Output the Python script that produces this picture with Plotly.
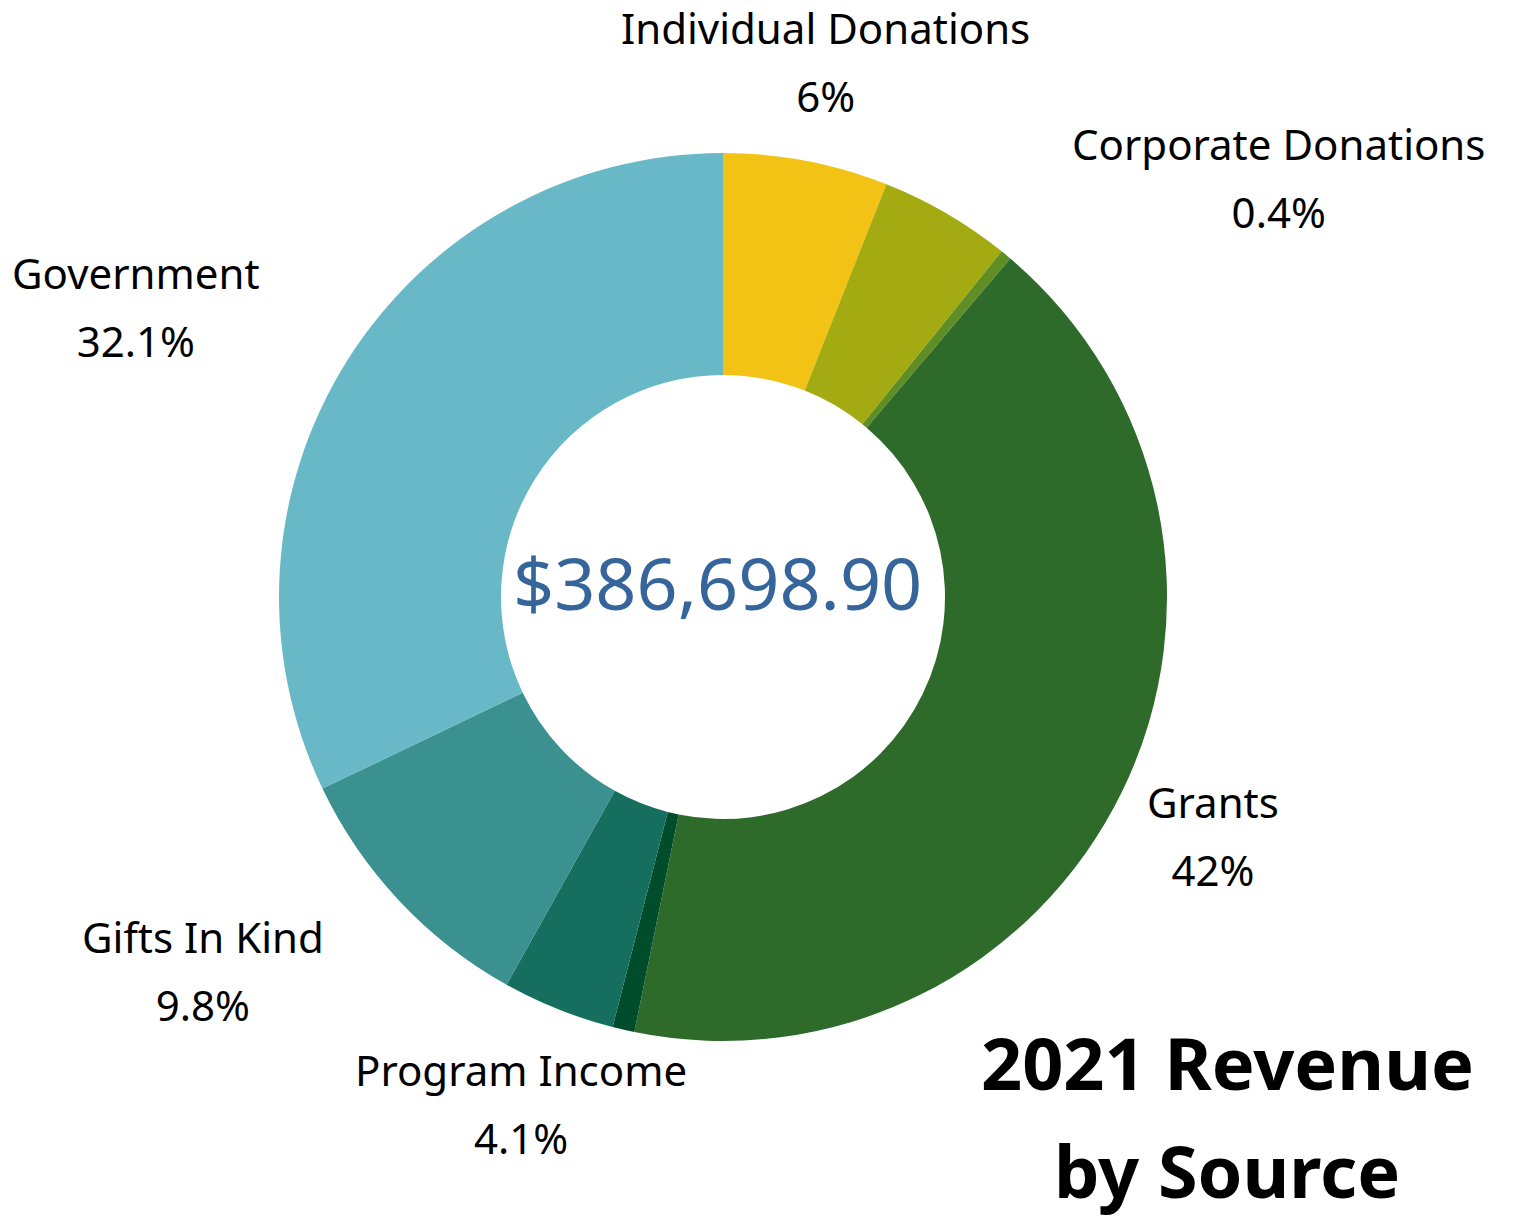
import math
import plotly.graph_objects as go

# ---- data ----
sources = ["Individual Donations", "Unlabeled (olive)", "Corporate Donations", "Grants",
           "Unlabeled (dark)", "Program Income", "Gifts In Kind", "Government"]
shares = [6.0, 4.8, 0.4, 42.0, 0.8, 4.1, 9.8, 32.1]
share_labels = ["6%", "", "0.4%", "42%", "", "4.1%", "9.8%", "32.1%"]
total_text = "$386,698.90"
title_lines = ["2021 Revenue", "by Source"]

# ---- style ----
colors = ["#F2C314", "#A4AB12", "#5F8F24", "#2E6B2B", "#004D2B", "#166E5E", "#3A918F", "#68B8C8"]
label_anchor = {"Individual Donations": "center", "Corporate Donations": "left", "Grants": "center",
                "Program Income": "center", "Gifts In Kind": "right", "Government": "right"}
W, H = 1517, 1218
CX, CY, R = 723, 597, 444          # pie centre / radius in px
LABEL_R = 545                      # label radius in px
FONT = "Noto Sans"
LABEL_SIZE = 42
LINE_BASE = 52

fig = go.Figure(go.Pie(
    labels=sources, values=shares, sort=False, direction="clockwise", rotation=0,
    hole=0.5, marker=dict(colors=colors, line=dict(width=0)), textinfo="none",
    hoverinfo="label+percent",
    domain=dict(x=[(CX - R) / W, (CX + R) / W], y=[(H - CY - R) / H, (H - CY + R) / H]),
))

annotations = []
total = sum(shares)
cum = 0.0
for name, v, txt in zip(sources, shares, share_labels):
    mid = (cum + v / 2) / total * 2 * math.pi
    cum += v
    if not txt:
        continue
    px = CX + LABEL_R * math.sin(mid)
    py = CY - LABEL_R * math.cos(mid)
    annotations.append(dict(
        x=px / W, y=1 - py / H, xref="paper", yref="paper",
        xanchor=label_anchor[name], yanchor="middle", align="center", showarrow=False,
        text=f"<span style='font-size:{LABEL_SIZE}px'>{name}</span><br>"
             f"<span style='font-size:{LABEL_SIZE}px'>{txt}</span>",
        font=dict(family=FONT, size=LINE_BASE, color="#000000"),
    ))

annotations.append(dict(
    x=(CX - 6) / W, y=1 - (CY - 15) / H, xref="paper", yref="paper", showarrow=False,
    xanchor="center", yanchor="middle", text=total_text,
    font=dict(family=FONT, size=72, color="#35659A"),
))

for i, line in enumerate(title_lines):
    annotations.append(dict(
        x=1227 / W, y=1 - (1062 + 108 * i) / H, xref="paper", yref="paper", showarrow=False,
        xanchor="center", yanchor="middle", text=f"<b>{line}</b>",
        font=dict(family=FONT, size=72, color="#000000"),
    ))

fig.update_layout(
    width=W, height=H, margin=dict(l=0, r=0, t=0, b=0),
    paper_bgcolor="white", plot_bgcolor="white", showlegend=False,
    annotations=annotations,
)

fig.write_html("out.html", config={"displayModeBar": False},
               post_script="document.body.style.margin='0';")
